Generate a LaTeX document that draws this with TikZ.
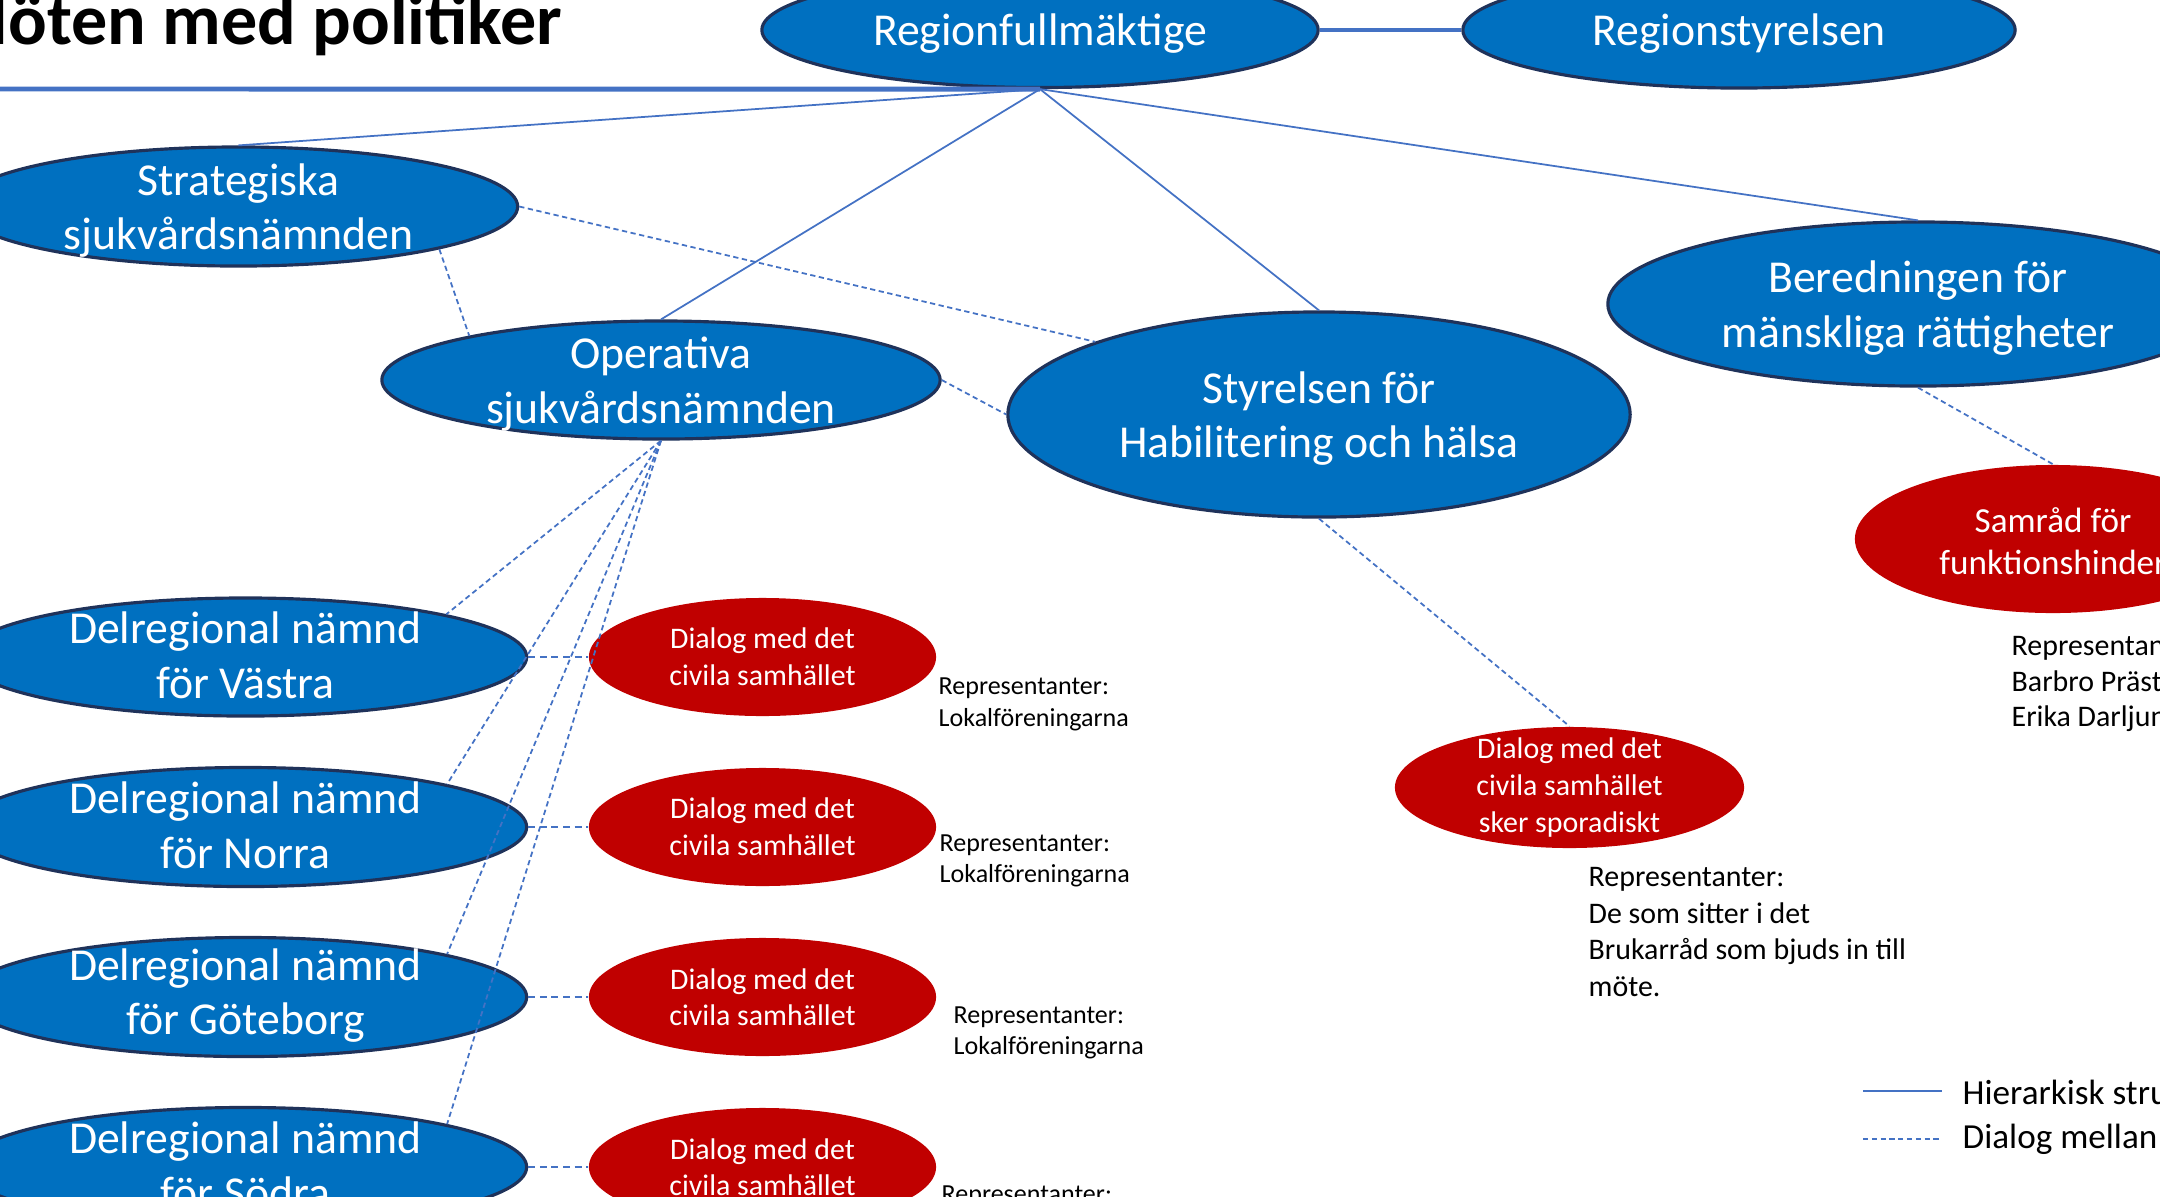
\documentclass[tikz,border=0pt]{standalone}
\usepackage{fontspec}
\setmainfont{Carlito}
\usetikzlibrary{shapes.geometric}
\definecolor{regblue}{RGB}{0,112,192}
\definecolor{rimblue}{RGB}{31,50,90}
\definecolor{dialred}{RGB}{192,0,0}
\definecolor{lineblue}{RGB}{68,114,196}
\tikzset{
	nbox/.style={ellipse,draw=rimblue,line width=0.9pt,fill=regblue,inner sep=0pt},
	dbox/.style={ellipse,fill=dialred,inner sep=0pt},
	ntext/.style={text=white,align=center,yshift=-0.04cm,font=\fontsize{13}{15.6}\selectfont},
	dtext/.style={text=white,align=center,font=\fontsize{8.5}{10.4}\selectfont},
	rep/.style={anchor=west,align=left,inner sep=0pt,font=\fontsize{7.4}{9}\selectfont},
	hier/.style={draw=lineblue,line width=0.5pt},
	dial/.style={draw=lineblue,line width=0.5pt,dash pattern=on 1.5pt off 1pt},
	dialh/.style={draw=lineblue,line width=0.7pt,dash pattern=on 2pt off 1.3pt}
}

\begin{document}
\begin{tikzpicture}
	\pgfmathsetmacro{\ul}{0.01};
	\path[use as bounding box,clip] (0,0) rectangle (2160*\ul,-1196*\ul);
	% title
	\node[anchor=base east,inner sep=0pt,font=\fontsize{20.5}{24}\selectfont\bfseries] (title) at (563*\ul,-44*\ul) {Möten med politiker};
	\coordinate (ruleL) at (0,-89*\ul);
	% top level
	\node[nbox,minimum width=5.56cm,minimum height=1.15cm,label={[ntext]center:Regionfullmäktige}] (rf) at (1040*\ul,-30*\ul) {};
	\node[nbox,minimum width=5.52cm,minimum height=1.16cm,label={[ntext]center:Regionstyrelsen}] (rs) at (1739*\ul,-30*\ul) {};
	\draw[lineblue,line width=1.4pt] (ruleL) -- (rf.south);
	\draw[lineblue,line width=1.2pt] (rf.east) -- (rs.west);
	% boards
	\node[nbox,minimum width=5.58cm,minimum height=1.19cm,label={[ntext]center:Strategiska\\sjukvårdsnämnden}] (strat) at (238.5*\ul,-206.5*\ul) {};
	\node[nbox,minimum width=5.58cm,minimum height=1.18cm,label={[ntext]center:Operativa\\sjukvårdsnämnden}] (oper) at (661*\ul,-380*\ul) {};
	\node[nbox,minimum width=6.22cm,minimum height=2.05cm,label={[ntext]center:Styrelsen för\\Habilitering och hälsa}] (styr) at (1319*\ul,-414.5*\ul) {};
	\node[nbox,minimum width=6.2cm,minimum height=1.64cm,label={[ntext]center:Beredningen för\\mänskliga rättigheter}] (bered) at (1918*\ul,-304*\ul) {};
	\node[dbox,minimum width=3.96cm,minimum height=1.48cm,label={[ntext,yshift=0.02cm,font=\fontsize{10}{12}\selectfont]center:Samråd för\\funktionshinder}] (samr) at (2053*\ul,-539*\ul) {};
	\node[dbox,minimum width=3.49cm,minimum height=1.21cm,label={[dtext]center:Dialog med det\\civila samhället\\sker sporadiskt}] (spor) at (1569.5*\ul,-787.5*\ul) {};
	\draw[hier] (rf.south) -- (strat.north);
	\draw[hier] (rf.south) -- (oper.north);
	\draw[hier] (rf.south) -- (styr.north);
	\draw[hier] (rf.south) -- (bered.north);
	\draw[dial] (strat.-12.4) -- (oper.167.7);
	\draw[dial] (strat.east) -- (styr.162);
	\draw[dial] (oper.east) -- (styr.west);
	\draw[dial] (bered.south) -- (samr.north);
	\draw[dial] (styr.south) -- (spor.north);
	% sub-regional boards
	\node[nbox,minimum width=5.62cm,minimum height=1.18cm,label={[ntext,yshift=0.055cm]center:Delregional nämnd\\för Västra}] (vas) at (245.5*\ul,-657*\ul) {};
	\node[nbox,minimum width=5.62cm,minimum height=1.19cm,label={[ntext,yshift=0.055cm]center:Delregional nämnd\\för Norra}] (nor) at (245.5*\ul,-827*\ul) {};
	\node[nbox,minimum width=5.62cm,minimum height=1.19cm,label={[ntext,yshift=0.055cm]center:Delregional nämnd\\för Göteborg}] (gbg) at (245.5*\ul,-997*\ul) {};
	\node[nbox,minimum width=5.62cm,minimum height=1.19cm,label={[ntext,yshift=0.055cm]center:Delregional nämnd\\för Södra}] (sod) at (245.5*\ul,-1167*\ul) {};
	\node[dbox,minimum width=3.47cm,minimum height=1.18cm,label={[dtext]center:Dialog med det\\civila samhället}] (dvas) at (762.5*\ul,-657*\ul) {};
	\node[dbox,minimum width=3.47cm,minimum height=1.18cm,label={[dtext]center:Dialog med det\\civila samhället}] (dnor) at (762.5*\ul,-827*\ul) {};
	\node[dbox,minimum width=3.47cm,minimum height=1.18cm,label={[dtext]center:Dialog med det\\civila samhället}] (dgbg) at (762.5*\ul,-997*\ul) {};
	\node[dbox,minimum width=3.47cm,minimum height=1.18cm,label={[dtext]center:Dialog med det\\civila samhället}] (dsod) at (762.5*\ul,-1167*\ul) {};
	\draw[dial] (oper.south) -- (vas.12.6);
	\draw[dial] (oper.south) -- (nor.12.6);
	\draw[dial] (oper.south) -- (gbg.12.6);
	\draw[dial] (oper.south) -- (sod.12.6);
	\draw[dialh] (vas.east) -- (dvas.west);
	\draw[dialh] (nor.east) -- (dnor.west);
	\draw[dialh] (gbg.east) -- (dgbg.west);
	\draw[dialh] (sod.east) -- (dsod.west);
	% representatives
	\node[rep] (rvas) at (938*\ul,-704.5*\ul) {Representanter:\\Lokalföreningarna};
	\node[rep] (rnor) at (939*\ul,-861*\ul) {Representanter:\\Lokalföreningarna};
	\node[rep] (rgbg) at (953*\ul,-1033*\ul) {Representanter:\\Lokalföreningarna};
	\node[rep] (rsod) at (941*\ul,-1212*\ul) {Representanter:\\Lokalföreningarna};
	\node[rep,font=\fontsize{8.5}{10.5}\selectfont] (rspor) at (1588*\ul,-932*\ul) {Representanter:\\De som sitter i det\\Brukarråd som bjuds in till\\möte.};
	\node[rep,font=\fontsize{8.5}{10.2}\selectfont] (rsamr) at (2011*\ul,-684*\ul) {Representanter:\\Barbro Präst\\Erika Darljun};
	% legend
	\coordinate (lha) at (1863*\ul,-1091*\ul);
	\coordinate (lhb) at (1942*\ul,-1091*\ul);
	\coordinate (lda) at (1863*\ul,-1139*\ul);
	\coordinate (ldb) at (1942*\ul,-1139*\ul);
	\draw[hier] (lha) -- (lhb);
	\draw[dial] (lda) -- (ldb);
	\node[anchor=west,inner sep=0pt,font=\fontsize{10}{12}\selectfont] (lgh) at (1962*\ul,-1092*\ul) {Hierarkisk struktur};
	\node[anchor=west,inner sep=0pt,font=\fontsize{10}{12}\selectfont] (lgd) at (1962*\ul,-1139*\ul) {Dialog mellan};
\end{tikzpicture}
\end{document}
